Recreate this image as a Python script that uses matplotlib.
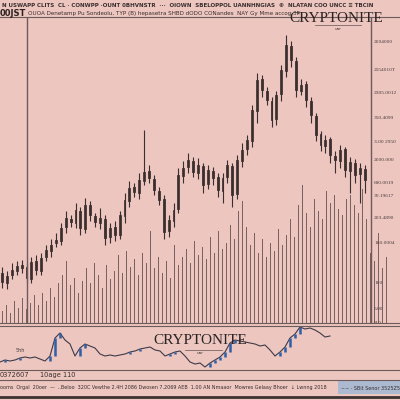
import matplotlib.pyplot as plt
from matplotlib.lines import Line2D
from matplotlib.patches import Rectangle

# main candles (price units on the chart's own scale)
opens = [50, 40, 48, 52, 58, 56, 44, 62, 52, 66, 72, 80, 82, 96, 104, 100, 112, 94, 118, 107,
         100, 104, 86, 96, 88, 107, 122, 136, 130, 142, 152, 144, 132, 124, 92, 102, 114, 147, 156, 162,
         150, 157, 139, 152, 146, 132, 146, 157, 129, 162, 174, 182, 212, 244, 232, 222, 204, 229, 252, 277,
         262, 232, 239, 222, 207, 189, 177, 184, 167, 162, 174, 152, 160, 149, 154]
closes = [41, 47, 53, 57, 55, 45, 61, 53, 65, 73, 78, 83, 95, 105, 101, 113, 95, 118, 108, 101,
          105, 85, 95, 88, 108, 123, 135, 131, 143, 151, 145, 133, 123, 91, 103, 113, 148, 155, 163, 151,
          158, 138, 153, 145, 133, 145, 158, 128, 163, 173, 183, 213, 243, 233, 223, 203, 228, 253, 278, 263,
          233, 238, 223, 208, 188, 178, 183, 168, 163, 173, 153, 161, 148, 155, 143]
highs = [56, 52, 60, 62, 63, 60, 66, 68, 70, 78, 84, 90, 100, 112, 108, 120, 116, 125, 122, 110,
         115, 108, 100, 102, 112, 130, 142, 140, 150, 193, 158, 148, 136, 128, 108, 120, 155, 162, 170, 166,
         165, 160, 158, 156, 150, 150, 163, 160, 168, 180, 188, 218, 250, 248, 236, 226, 232, 258, 288, 282,
         266, 244, 242, 226, 210, 192, 188, 186, 172, 178, 176, 166, 164, 160, 158]
lows = [35, 34, 44, 48, 50, 40, 40, 48, 48, 62, 66, 76, 78, 90, 96, 95, 88, 90, 102, 96,
        94, 78, 80, 82, 84, 100, 116, 126, 124, 138, 140, 128, 118, 84, 86, 96, 110, 140, 150, 146,
        144, 130, 134, 138, 126, 120, 140, 116, 124, 156, 168, 176, 200, 226, 218, 196, 198, 222, 246, 256,
        226, 228, 216, 200, 182, 172, 170, 160, 150, 155, 146, 130, 140, 120, 130]

volumes = [12, 18, 10, 22, 15, 25, 14, 20, 28, 18, 30, 22, 35, 26, 40, 48, 62, 38, 45, 30,
           42, 55, 40, 60, 48, 35, 58, 44, 52, 68, 50, 72, 56, 64, 48, 70, 60, 92, 55, 66,
           50, 62, 45, 78, 58, 66, 74, 60, 82, 68, 76, 64, 86, 70, 92, 74, 80, 98, 84, 112,
           122, 96, 78, 90, 70, 84, 66, 80, 72, 94, 78, 88, 104, 86, 118, 138, 110, 96, 124, 112,
           104, 132, 120, 128, 114, 108, 124, 128, 118, 110, 134, 104, 70, 62, 90, 55, 66]

# lower panel line
lower = [8, 10, 9, 10, 12, 13, 12, 13, 11, 9, 14, 32, 37, 30, 26, 14, 22, 26, 24, 22,
         16, 14, 15, 14, 15, 16, 18, 19, 21, 22, 23, 20, 19, 14, 16, 18, 19, 14, 8, 6,
         7, 3, 7, 10, 13, 18, 27, 30, 29, 28, 27, 26, 24, 25, 20, 14, 18, 23, 32, 36,
         43, 41, 42, 40, 37, 33, 34]

right_labels = ["2004000", "2554010T", "2305.0012", "350.4099", "3.00 2950", "2000.000",
                "690.0019", "30.19617", "203.4890", "180.0004", "100", "5.00", "R.0"]
right_label_y = [281, 253, 230, 205, 181, 163, 140, 127, 105, 80, 40, 14, 0]

header1 = "N USWAPP CLITS  CL · CONWPP ·OUNT 0BHVNSTR  ···  OIOWN  SBELOPPOL UANNHNGIAS  ©  NLATAN COO UNCC ≡ TBCIN"
header2 = "OUOA Denetamp Pu Sondeolu, TYP (B) hepasetra SHBD dODO CONandes  NAY Gy Mme accog 3P"
footer1 = ["0372607", "10age 110"]
footer2 = "ooms  Orgal  20oer  —  ..Beloo  320C Vewthe 2.4H 2086 Dwosen 7.2069 AEB  1.00 AN Nmaaor  Mowres Gelaay Bhoer  ↓ Lwnng 2018"
footer_hl = "~~ · SBit Senor 3525Z5"

bg = "#ecc6bf"

fig = plt.figure(figsize=(4, 4), dpi=100, facecolor=bg)

# volume axes (behind candles)
axv = fig.add_axes([0, 77 / 400, 1, 306 / 400])
axv.set_facecolor(bg)
axv.bar(range(len(volumes)), volumes, width=0.25, color="#5d4a4a", alpha=0.8)
axv.set_xlim(-0.5, 99.5)
axv.set_ylim(0, 306)
axv.axis("off")

# candle axes
ax = fig.add_axes([0, 77 / 400, 1, 306 / 400])
ax.patch.set_alpha(0)
for i, (o, c, h, l) in enumerate(zip(opens, closes, highs, lows)):
    ax.vlines(i, l, h, color="#3a2e2e", lw=0.8)
    face = "#e4b0ab" if c >= o else "#7a5e5e"
    ax.add_patch(Rectangle((i - 0.2, min(o, c)), 0.4, abs(c - o),
                           facecolor=face, edgecolor="#3a2e2e", lw=0.6))
ax.set_xlim(-2 / 4.9, 398 / 4.9)
ax.set_ylim(0, 306)
ax.axis("off")
ax.axvline(25 / 4.9, color="#6d5a5a", lw=1.0)
ax.axvline(369 / 4.9, color="#6d5a5a", lw=1.0)

for lab, yv in zip(right_labels, right_label_y):
    ax.text(372 / 4.9, yv, lab, fontsize=3.9, color="#4a3b3b", va="center", ha="left",
            family="Liberation Serif", clip_on=False)

# lower panel
axl = fig.add_axes([0, 30 / 400, 1, 45 / 400])
axl.patch.set_alpha(0)
axl.plot(range(len(lower)), lower, color="#3f3a48", lw=0.8)
for i in range(1, len(lower)):
    if lower[i] - lower[i - 1] >= 2:
        axl.vlines(i, lower[i - 1], lower[i], color="#2f5fa8", lw=1.8)
axl.set_xlim(0, 80)
axl.set_ylim(0, 45)
axl.axis("off")
axl.text(40, 29, "CRYPTONITE", fontsize=11, family="Liberation Serif", color="#2c2424",
         ha="center", va="center")
axl.plot([37, 44.4], [20, 20], color="#7a6666", lw=0.6)
axl.text(40, 17, "uar", fontsize=3, color="#4a3b3b", ha="center", va="center")
axl.text(4, 20, "5hh", fontsize=3.5, color="#4a3b3b", ha="center", va="center")

# figure-level frame lines and text
for y in [383, 77, 74, 30, 20]:
    fig.add_artist(Line2D([0, 1], [y / 400, y / 400], color="#6d5a5a", lw=0.8))
fig.add_artist(Line2D([0, 1], [3 / 400, 3 / 400], color="#3d3232", lw=2.0))
fig.add_artist(Rectangle((338 / 400, 6 / 400), 62 / 400, 13 / 400, facecolor="#9db8d6",
                         edgecolor="none", alpha=0.8))

fig.text(0.005, 394.5 / 400, header1, fontsize=4.0, color="#3a2e2e", va="center", ha="left",
         weight="bold")
fig.text(0.0, 387 / 400, "00JST", fontsize=6, color="#2a2020", va="center", ha="left", weight="bold")
fig.text(0.07, 387 / 400, header2, fontsize=4.1, color="#3a2e2e", va="center", ha="left")
fig.text(336 / 400, 382 / 400, "CRYPTONITE", fontsize=11, family="Liberation Serif",
         color="#2c2424", ha="center", va="center")
fig.add_artist(Line2D([315 / 400, 361 / 400], [375 / 400, 375 / 400], color="#7a6666", lw=0.6))
fig.text(338 / 400, 371 / 400, "uar", fontsize=3, color="#4a3b3b", ha="center", va="center")

fig.text(0.0, 25 / 400, footer1[0], fontsize=4.8, color="#3a2e2e", va="center", ha="left")
fig.text(40 / 400, 25 / 400, footer1[1], fontsize=4.8, color="#3a2e2e", va="center", ha="left")
fig.text(0.0, 12 / 400, footer2, fontsize=3.5, color="#3a2e2e", va="center", ha="left")
fig.text(341 / 400, 12 / 400, footer_hl, fontsize=3.5, color="#3a2e2e", va="center", ha="left")

fig.savefig("out.png", dpi=100, facecolor=bg)
